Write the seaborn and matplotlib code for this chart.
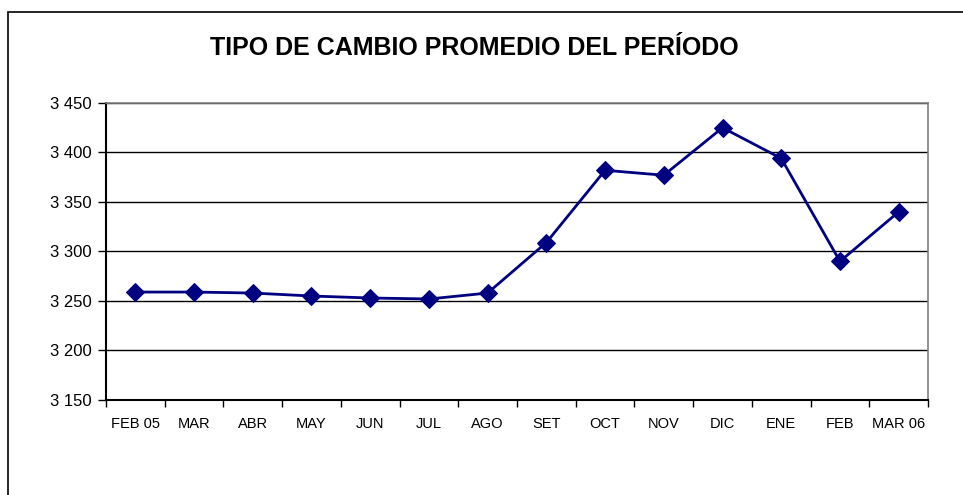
import matplotlib
matplotlib.use("Agg")
import matplotlib.pyplot as plt
import seaborn as sns
import pandas as pd
from matplotlib.patches import Rectangle
from matplotlib.ticker import FuncFormatter, FixedLocator, MultipleLocator

# data
months = ["FEB 05", "MAR", "ABR", "MAY", "JUN", "JUL", "AGO",
          "SET", "OCT", "NOV", "DIC", "ENE", "FEB", "MAR 06"]
rates = [3259, 3259, 3258, 3255, 3253, 3252, 3258,
         3309, 3382, 3377, 3425, 3394, 3290, 3340]

df = pd.DataFrame({"mes": months, "tipo": rates})

sns.set_style("white", {"text.color": "black", "xtick.color": "black",
                        "ytick.color": "black", "axes.labelcolor": "black"})
plt.rcParams["font.family"] = ["Liberation Sans Narrow", "Liberation Sans", "DejaVu Sans"]

fig = plt.figure(figsize=(9.63, 4.95), dpi=100)
ax = fig.add_axes([0.110, 0.192, 0.8537, 0.600])

sns.lineplot(data=df, x="mes", y="tipo", ax=ax, color="#000080",
             marker="D", markersize=9, markeredgecolor="#000080",
             linewidth=2, sort=False)

ax.set_ylim(3150, 3450)
ax.set_xlim(-0.5, len(months) - 0.5)
ax.yaxis.set_major_locator(MultipleLocator(50))
ax.yaxis.set_major_formatter(FuncFormatter(lambda v, p: f"{int(v):,}".replace(",", " ")))
ax.grid(axis="y", color="black", linewidth=1)
ax.set_axisbelow(True)

ax.set_xticks(range(len(months)))
ax.set_xticklabels(months)
ax.xaxis.set_minor_locator(FixedLocator([i - 0.5 for i in range(len(months) + 1)]))
ax.tick_params(axis="x", which="both", bottom=True)
ax.tick_params(axis="x", which="major", length=0, pad=12, labelsize=10.5, labelcolor="black")
ax.tick_params(axis="x", which="minor", length=5, width=1, color="black", direction="out")
ax.tick_params(axis="y", left=True, length=6, width=1, color="black", direction="out",
               labelsize=12, pad=4, labelcolor="black")

for side in ["left", "bottom"]:
    ax.spines[side].set_color("black")
    ax.spines[side].set_linewidth(1.5)
for side in ["right", "top"]:
    ax.spines[side].set_color("#808080")
    ax.spines[side].set_linewidth(1.2)

ax.set_xlabel("")
ax.set_ylabel("")

fig.text(0.493, 0.903, "TIPO DE CAMBIO PROMEDIO DEL PERÍODO", ha="center", va="center",
         fontsize=18, fontweight="bold", color="black")

fig.patches.append(Rectangle((8 / 963, -0.02), 1.0, 1 - 12 / 495 + 0.02,
                             transform=fig.transFigure, fill=False,
                             edgecolor="black", linewidth=1.2))

fig.savefig("out.png", dpi=100)
